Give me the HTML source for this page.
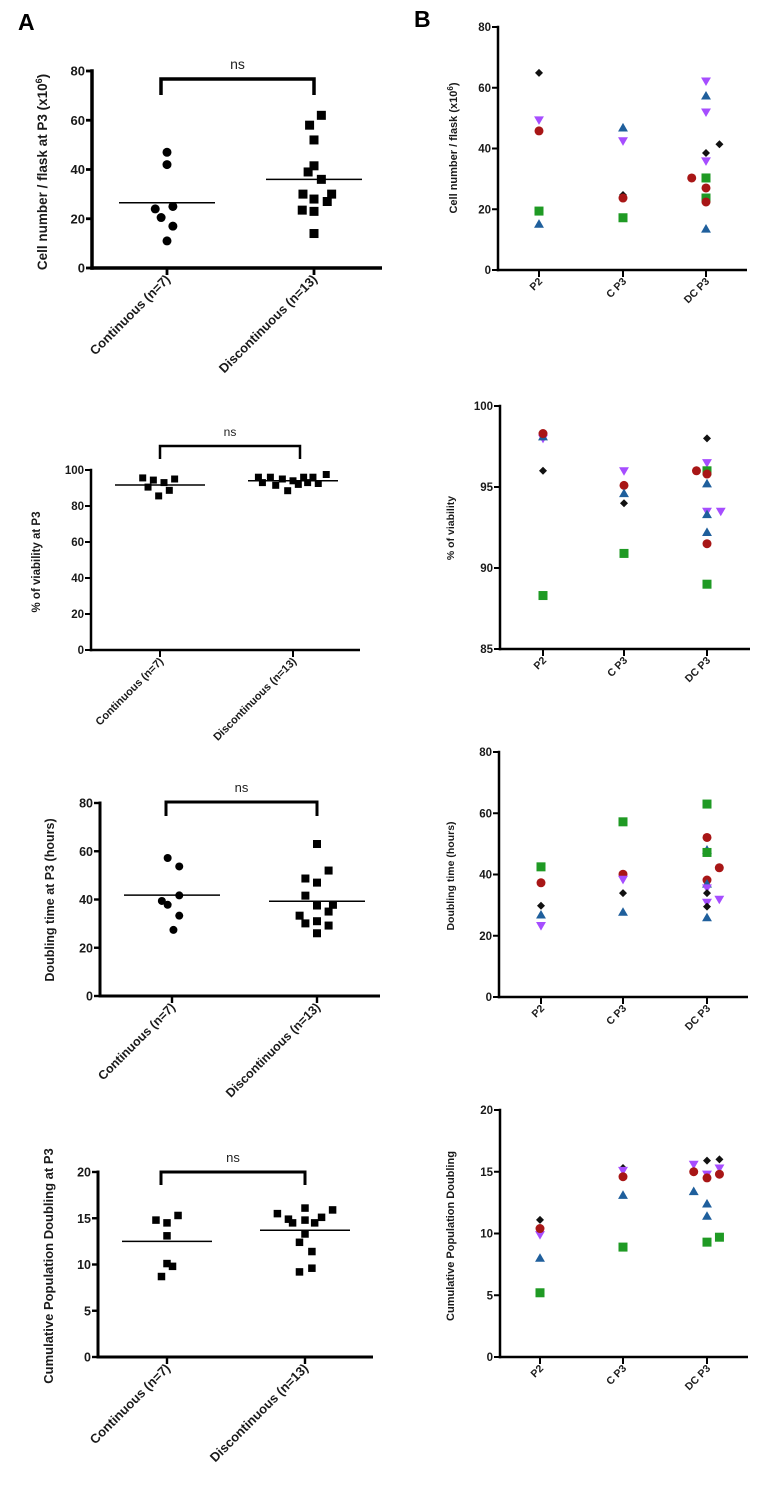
<!DOCTYPE html>
<html><head><meta charset="utf-8">
<style>
html,body{margin:0;padding:0;background:#fff;}
svg{display:block;font-family:"Liberation Sans",Arial,sans-serif;}
</style></head>
<body>
<svg id="fig" width="762" height="1493" viewBox="0 0 762 1493" xmlns="http://www.w3.org/2000/svg">
<text x="18" y="30" font-size="23" font-weight="bold">A</text>
<text x="414" y="27" font-size="23" font-weight="bold">B</text>
</svg>
<script>
// ---------- Panel A data ----------
const aGroups = ["Continuous (n=7)", "Discontinuous (n=13)"];
const a1ContVals = [47, 42, 25, 24, 20.5, 17, 11];
const a1ContJit = [0, 0, 0.04, -0.08, -0.04, 0.04, 0];
const a1DiscVals = [62, 58, 52, 41.5, 39, 36, 30, 30, 28, 27, 23.5, 23, 14];
const a1DiscJit = [0.05, -0.03, 0, 0, -0.04, 0.05, -0.075, 0.12, 0, 0.09, -0.08, 0, 0];
const a1Means = [26.5, 36];
const a1Ticks = [0, 20, 40, 60, 80];

const a2ContVals = [95.6, 94.4, 90.5, 93, 95, 88.7, 85.6];
const a2ContJit = [-0.13, -0.05, -0.09, 0.03, 0.11, 0.07, -0.01];
const a2DiscVals = [96, 93, 96, 91.5, 95, 88.5, 94, 92, 96, 93, 96, 92.5, 97.5];
const a2DiscJit = [-0.26, -0.23, -0.17, -0.13, -0.08, -0.04, 0, 0.04, 0.08, 0.11, 0.15, 0.19, 0.25];
const a2Means = [91.7, 94];
const a2Ticks = [0, 20, 40, 60, 80, 100];

const a3ContVals = [57.2, 53.7, 41.7, 39.4, 37.8, 33.3, 27.4];
const a3ContJit = [-0.03, 0.05, 0.05, -0.07, -0.03, 0.05, 0.01];
const a3DiscVals = [63, 52, 48.7, 47, 41.6, 37.5, 37.8, 35, 33.3, 30.1, 31, 29.2, 26];
const a3DiscJit = [0, 0.08, -0.08, 0, -0.08, 0, 0.11, 0.08, -0.12, -0.08, 0, 0.08, 0];
const a3Means = [41.8, 39.3];
const a3Ticks = [0, 20, 40, 60, 80];

const a4ContVals = [14.8, 14.5, 15.3, 13.1, 10.1, 9.8, 8.7];
const a4ContJit = [-0.08, 0, 0.08, 0, 0, 0.04, -0.04];
const a4DiscVals = [15.5, 14.9, 14.5, 16.1, 14.8, 14.5, 15.1, 15.9, 13.3, 12.4, 11.4, 9.2, 9.6];
const a4DiscJit = [-0.2, -0.12, -0.09, 0, 0, 0.07, 0.12, 0.2, 0, -0.04, 0.05, -0.04, 0.05];
const a4Means = [12.5, 13.7];
const a4Ticks = [0, 5, 10, 15, 20];

// ---------- Panel B data ----------
const bCats = ["P2", "C P3", "DC P3"];
const b1Cat = [0,0,0,0,0, 1,1,1,1,1, 2,2,2,2,2,2,2,2,2,2,2,2];
const b1Jit = [0,0,0,0,0, 0,0,0,0,0, 0,0,0,0,0.16,0,-0.17,0,0,0,0,0];
const b1Ser = ["D","V","R","G","B", "B","V","D","R","G", "V","B","V","D","D","V","R","G","R","G","R","B"];
const b1Val = [64.9,49.4,45.8,19.4,15.1, 46.8,42.5,24.7,23.7,17.2, 62.2,57.3,52,38.5,41.4,35.9,30.3,30.3,27,23.7,22.4,13.5];
const b1Ticks = [0, 20, 40, 60, 80];

const b2Cat = [0,0,0,0,0, 1,1,1,1,1, 2,2,2,2,2,2,2,2,2,2,2,2];
const b2Jit = [0,0,0,0,0, 0,0,0,0,0, 0,0,-0.13,0,0,0,0,0.17,0,0,0,0];
const b2Ser = ["V","B","R","D","G", "V","R","B","D","G", "D","V","R","G","R","B","V","V","B","B","R","G"];
const b2Val = [98.0,98.1,98.3,96.0,88.3, 96.0,95.1,94.6,94.0,90.9, 98.0,96.5,96.0,96.0,95.8,95.2,93.5,93.5,93.3,92.2,91.5,89.0];
const b2Ticks = [85, 90, 95, 100];

const b3Cat = [0,0,0,0,0, 1,1,1,1,1, 2,2,2,2,2,2,2,2,2,2,2,2,2];
const b3Jit = [0,0,0,0,0, 0,0,0,0,0, 0,0,0,0,0.15,0,0,0,0,0.15,0,0,0];
const b3Ser = ["G","R","D","B","V", "G","R","V","D","B", "G","B","R","G","R","R","B","V","D","V","V","D","B"];
const b3Val = [42.5,37.3,29.8,26.8,23.3, 57.2,40.1,38.4,33.9,27.7, 63,48,52.1,47.2,42.2,38.2,36.9,35.6,33.9,31.9,30.9,29.5,25.9];
const b3Ticks = [0, 20, 40, 60, 80];

const b4Cat = [0,0,0,0,0, 1,1,1,1,1, 2,2,2,2,2,2,2,2,2,2,2,2,2];
const b4Jit = [0,0,0,0,0, 0,0,0,0,0, -0.16,-0.16,-0.16,0,0,0,0,0,0,0.15,0.15,0.15,0.15];
const b4Ser = ["D","V","R","B","G", "D","V","R","B","G", "V","R","B","D","V","R","B","B","G","D","V","R","G"];
const b4Val = [11.1,9.9,10.4,8.0,5.2, 15.3,15.1,14.6,13.1,8.9, 15.6,15.0,13.4,15.9,14.8,14.5,12.4,11.4,9.3,16.0,15.3,14.8,9.7];
const b4Ticks = [0, 5, 10, 15, 20];

const NS = "http://www.w3.org/2000/svg";
const svg = document.getElementById("fig");
function mk(tag, attrs, parent) {
  const e = document.createElementNS(NS, tag);
  for (const k in attrs) e.setAttribute(k, attrs[k]);
  (parent || svg).appendChild(e);
  return e;
}
const COLORS = {D: "#111111", V: "#a64dff", R: "#a81616", G: "#1f9a24", B: "#1f5f9c"};
const SERNAME = {D: "diamond", V: "down-triangle", R: "circle", G: "square", B: "up-triangle"};

function marker(g, shape, cx, cy, s, color) {
  let e;
  if (shape === "circle") e = mk("circle", {cx: cx, cy: cy, r: s / 2, fill: color}, g);
  else if (shape === "square") e = mk("rect", {x: cx - s / 2, y: cy - s / 2, width: s, height: s, fill: color}, g);
  else if (shape === "D") e = mk("polygon", {points: `${cx},${cy - s / 2} ${cx + s / 2},${cy} ${cx},${cy + s / 2} ${cx - s / 2},${cy}`, fill: color}, g);
  else if (shape === "B") e = mk("polygon", {points: `${cx},${cy - s * 0.55} ${cx + s * 0.55},${cy + s * 0.4} ${cx - s * 0.55},${cy + s * 0.4}`, fill: color}, g);
  else if (shape === "V") e = mk("polygon", {points: `${cx},${cy + s * 0.55} ${cx + s * 0.55},${cy - s * 0.4} ${cx - s * 0.55},${cy - s * 0.4}`, fill: color}, g);
  return e;
}

function axes(cfg) {
  const g = mk("g", {});
  
  
  const ys = v => cfg.y0 - (v - cfg.vMin) / (cfg.vMax - cfg.vMin) * (cfg.y0 - cfg.yTop);
  const sw = cfg.sw;
  const ax = mk("g", {}, g);
  
  
  mk("line", {x1: cfg.x, y1: cfg.yTop - sw / 2, x2: cfg.x, y2: cfg.y0 + sw / 2, stroke: "#000", "stroke-width": sw}, ax);
  mk("line", {x1: cfg.x - sw / 2, y1: cfg.y0, x2: cfg.xEnd, y2: cfg.y0, stroke: "#000", "stroke-width": sw}, ax);
  cfg.ticks.forEach(t => {
    const y = ys(t);
    mk("line", {x1: cfg.x - 6, y1: y, x2: cfg.x, y2: y, stroke: "#000", "stroke-width": sw * 0.8}, ax);
    const tx = mk("text", {x: cfg.x - 7, y: y + cfg.tf * 0.36, "font-size": cfg.tf, "font-weight": "bold", "text-anchor": "end", fill: "#1a1a1a"}, ax);
    
    
    tx.textContent = t;
  });
  cfg.xt.forEach((xx, i) => {
    mk("line", {x1: xx, y1: cfg.y0, x2: xx, y2: cfg.y0 + 7, stroke: "#000", "stroke-width": sw * 0.8}, ax);
    const lx = xx + 4, ly = cfg.y0 + 12;
    const tx = mk("text", {x: lx, y: ly, "font-size": cfg.cf, "font-weight": "bold", "text-anchor": "end", fill: "#1a1a1a", transform: `rotate(-45 ${lx} ${ly})`}, ax);
    
    
    tx.textContent = cfg.cats[i];
  });
  const yl = mk("text", {x: cfg.lx, y: cfg.ly, "font-size": cfg.lf, "font-weight": "bold", "text-anchor": "middle", fill: "#1a1a1a", transform: `rotate(-90 ${cfg.lx} ${cfg.ly})`}, g);
  
  
  yl.innerHTML = cfg.label;
  return {g, ys};
}

function panelA(cfg, contV, contJ, discV, discJ, means, contShape) {
  const {g, ys} = axes(cfg);
  const sp = cfg.xt[1] - cfg.xt[0];
  // bracket
  const br = mk("path", {d: `M${cfg.bx1},${cfg.by + cfg.bd} V${cfg.by} H${cfg.bx2} V${cfg.by + cfg.bd}`, fill: "none", stroke: "#000", "stroke-width": cfg.bsw}, g);
  
  
  const ns = mk("text", {x: (cfg.bx1 + cfg.bx2) / 2, y: cfg.by - 10, "font-size": cfg.nf, "text-anchor": "middle", fill: "#222"}, g);
  
  
  ns.textContent = "ns";
  contV.forEach((v, i) => {
    const e = marker(g, contShape, cfg.xt[0] + contJ[i] * sp, ys(v), contShape === "circle" ? cfg.cs : cfg.ss, "#000");
    
    
  });
  discV.forEach((v, i) => {
    const e = marker(g, "square", cfg.xt[1] + discJ[i] * sp, ys(v), cfg.ss, "#000");
    
    
  });
  means.forEach((m, i) => {
    const l = mk("line", {x1: cfg.xt[i] - cfg.mh, y1: ys(m), x2: cfg.xt[i] + cfg.mh, y2: ys(m), stroke: "#000", "stroke-width": 1.5}, g);
    
    
  });
}

function panelB(cfg, cat, jit, ser, val) {
  const {g, ys} = axes(cfg);
  const sp = cfg.xt[1] - cfg.xt[0];
  val.forEach((v, i) => {
    const s = ser[i];
    const shape = s === "R" ? "circle" : s === "G" ? "square" : s;
    const size = s === "R" ? 9 : s === "G" ? 9 : s === "D" ? 8 : 9;
    const e = marker(g, shape, cfg.xt[cat[i]] + jit[i] * sp, ys(v), size, COLORS[s]);
    
    
  });
}

panelA({name: "panel-a1-cell-number", x: 92, y0: 268, yTop: 71, vMin: 0, vMax: 80, xEnd: 382, xt: [167, 314], ticks: a1Ticks, sw: 3.5, tf: 13, cf: 13, cats: aGroups,
  lx: 47, ly: 172, lf: 13.5, label: 'Cell number / flask at P3 (x10<tspan dy="-5" font-size="9">6</tspan><tspan dy="5">)</tspan>',
  bx1: 161, bx2: 314, by: 79, bd: 16, bsw: 3.5, nf: 14, mh: 48, cs: 9, ss: 9}, a1ContVals, a1ContJit, a1DiscVals, a1DiscJit, a1Means, "circle");

panelA({name: "panel-a2-viability", x: 91, y0: 650, yTop: 470, vMin: 0, vMax: 100, xEnd: 360, xt: [160, 293], ticks: a2Ticks, sw: 2.5, tf: 11.5, cf: 11, cats: aGroups,
  lx: 40, ly: 562, lf: 11.5, label: '% of viability at P3',
  bx1: 160, bx2: 300, by: 446, bd: 13, bsw: 2.5, nf: 12, mh: 45, cs: 7, ss: 7}, a2ContVals, a2ContJit, a2DiscVals, a2DiscJit, a2Means, "square");

panelA({name: "panel-a3-doubling-time", x: 100, y0: 996, yTop: 803, vMin: 0, vMax: 80, xEnd: 380, xt: [172, 317], ticks: a3Ticks, sw: 3, tf: 12.5, cf: 12.5, cats: aGroups,
  lx: 54, ly: 900, lf: 12.5, label: 'Doubling time at P3 (hours)',
  bx1: 166, bx2: 317, by: 802, bd: 14, bsw: 3, nf: 13, mh: 48, cs: 8, ss: 8}, a3ContVals, a3ContJit, a3DiscVals, a3DiscJit, a3Means, "circle");

panelA({name: "panel-a4-cumulative-pd", x: 98, y0: 1357, yTop: 1172, vMin: 0, vMax: 20, xEnd: 373, xt: [167, 305], ticks: a4Ticks, sw: 3, tf: 12.5, cf: 13, cats: aGroups,
  lx: 53, ly: 1266, lf: 13, label: 'Cumulative Population Doubling at P3',
  bx1: 161, bx2: 305, by: 1172, bd: 13, bsw: 3, nf: 13, mh: 45, cs: 7.5, ss: 7.5}, a4ContVals, a4ContJit, a4DiscVals, a4DiscJit, a4Means, "square");

panelB({name: "panel-b1-cell-number", x: 498, y0: 270, yTop: 27, vMin: 0, vMax: 80, xEnd: 747, xt: [539, 623, 706], ticks: b1Ticks, sw: 2.5, tf: 11.5, cf: 10.5, cats: bCats,
  lx: 457, ly: 148, lf: 11, label: 'Cell number / flask (x10<tspan dy="-4" font-size="8">6</tspan><tspan dy="4">)</tspan>'}, b1Cat, b1Jit, b1Ser, b1Val);

panelB({name: "panel-b2-viability", x: 500, y0: 649, yTop: 406, vMin: 85, vMax: 100, xEnd: 750, xt: [543, 624, 707], ticks: b2Ticks, sw: 2.5, tf: 11.5, cf: 10.5, cats: bCats,
  lx: 454, ly: 528, lf: 10.5, label: '% of viability'}, b2Cat, b2Jit, b2Ser, b2Val);

panelB({name: "panel-b3-doubling-time", x: 499, y0: 997, yTop: 752, vMin: 0, vMax: 80, xEnd: 748, xt: [541, 623, 707], ticks: b3Ticks, sw: 2.5, tf: 11.5, cf: 10.5, cats: bCats,
  lx: 454, ly: 876, lf: 10.5, label: 'Doubling time (hours)'}, b3Cat, b3Jit, b3Ser, b3Val);

panelB({name: "panel-b4-cumulative-pd", x: 500, y0: 1357, yTop: 1110, vMin: 0, vMax: 20, xEnd: 748, xt: [540, 623, 707], ticks: b4Ticks, sw: 2.5, tf: 11.5, cf: 10.5, cats: bCats,
  lx: 454, ly: 1236, lf: 11, label: 'Cumulative Population Doubling'}, b4Cat, b4Jit, b4Ser, b4Val);
</script>
</body></html>
